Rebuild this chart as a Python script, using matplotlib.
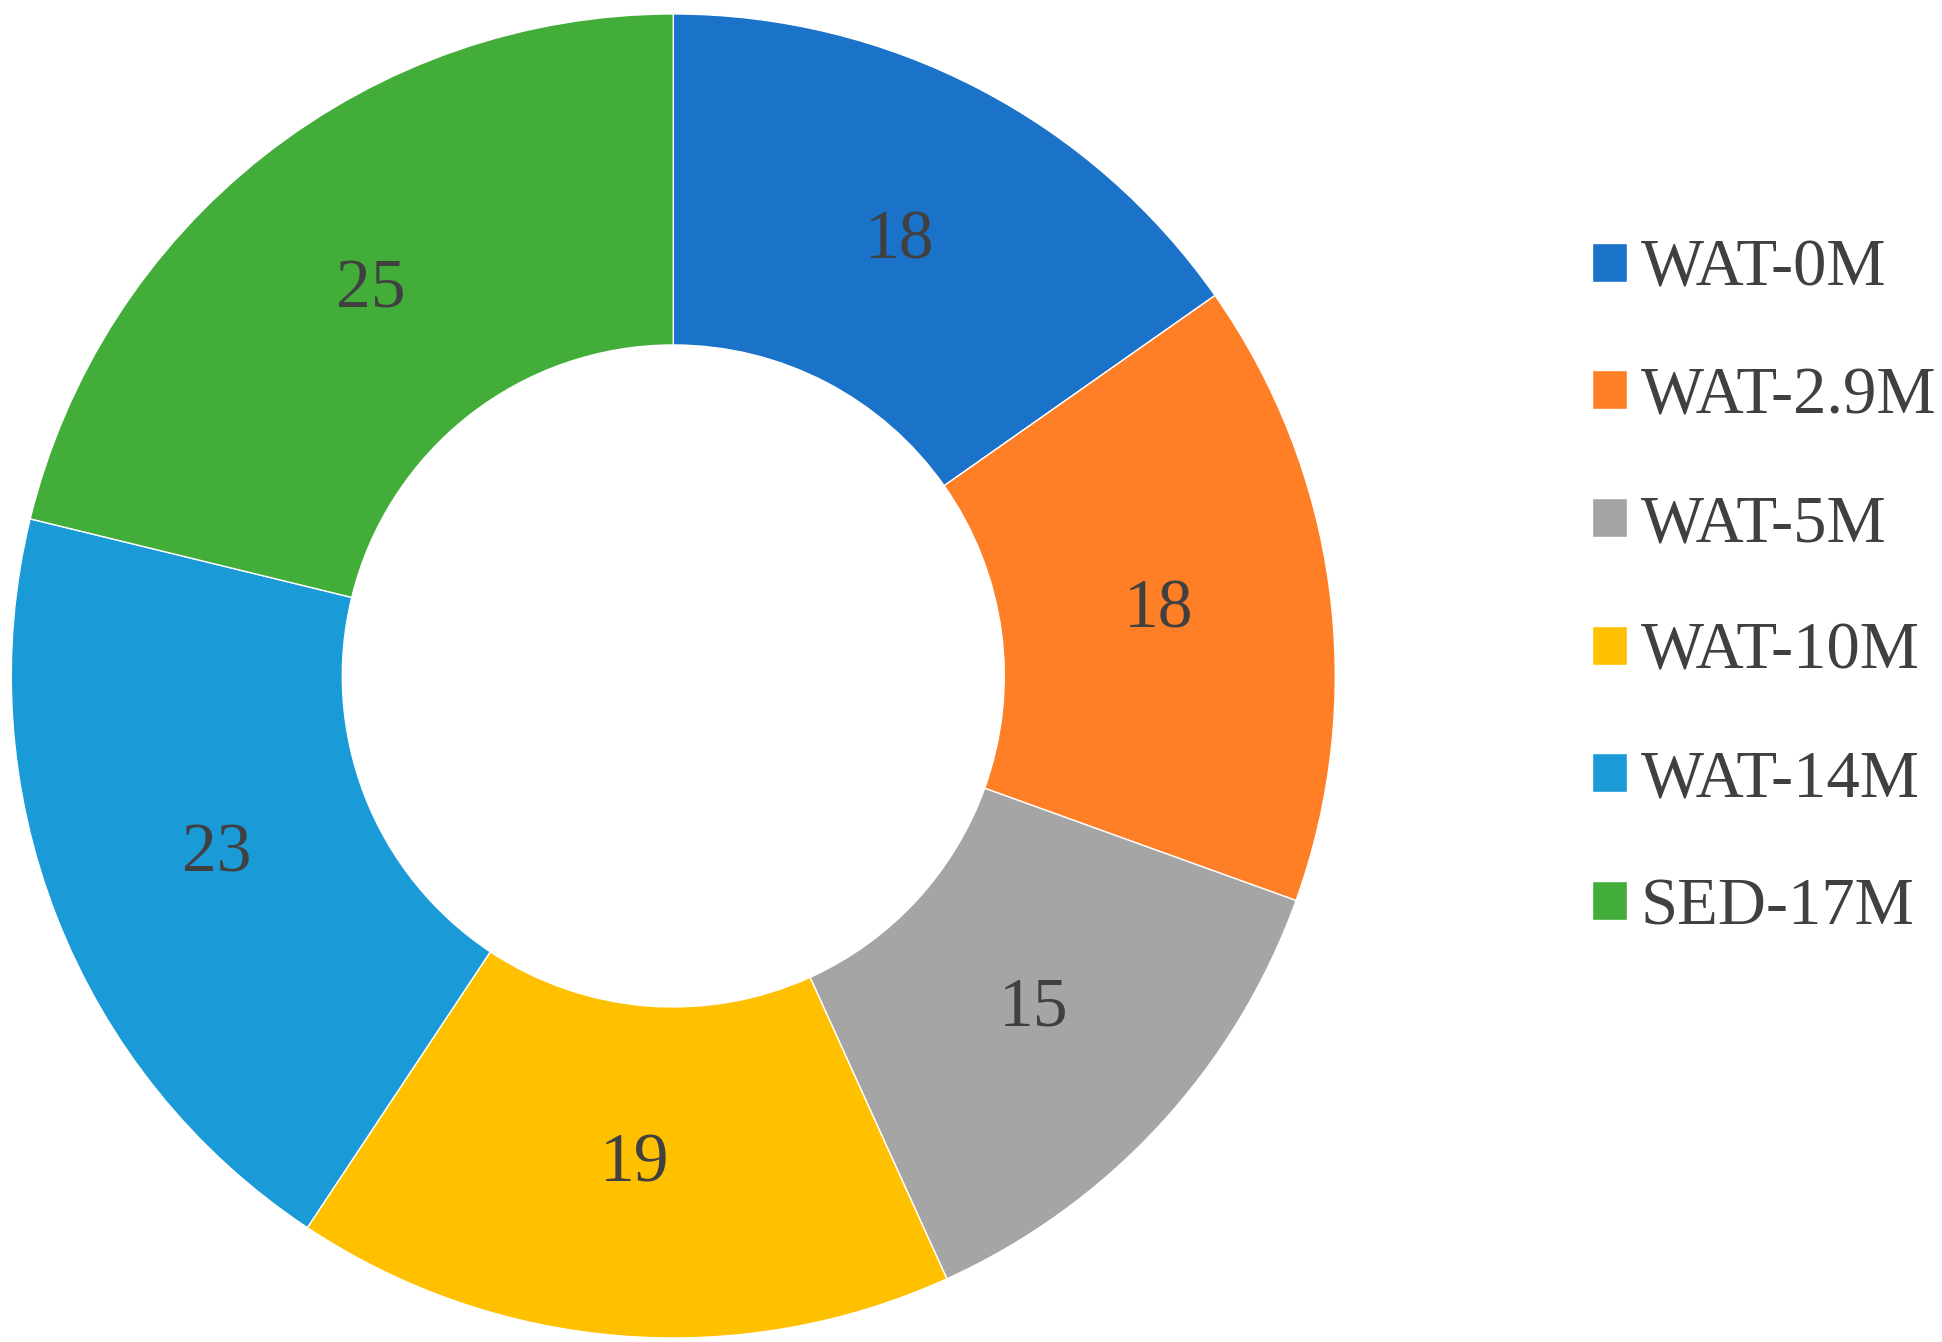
import matplotlib.pyplot as plt

labels = ["WAT-0M", "WAT-2.9M", "WAT-5M", "WAT-10M", "WAT-14M", "SED-17M"]
values = [18, 18, 15, 19, 23, 25]
colors = ["#1A72C9", "#FF7F27", "#A5A5A5", "#FFC000", "#1A9BD7", "#43AD3A"]

plt.rcParams["font.family"] = ["Liberation Serif", "DejaVu Serif"]

fig = plt.figure(figsize=(19.42, 13.42), dpi=100)
ax = fig.add_axes([0.0057, 0.003, 0.682, 0.9866])
wedges, texts = ax.pie(
    values,
    colors=colors,
    startangle=90,
    counterclock=False,
    labels=[str(v) for v in values],
    labeldistance=0.74,
    wedgeprops=dict(width=0.5, edgecolor="white", linewidth=1),
    textprops=dict(fontsize=50, color="#404040", ha="center", va="center"),
)
ax.set_xlim(-1.0, 1.0)
ax.set_ylim(-1.0, 1.0)
ax.set_aspect("equal")

fig.legend(
    handles=wedges,
    labels=labels,
    loc="upper left",
    bbox_to_anchor=(0.82, 0.822),
    frameon=False,
    prop=dict(size=48),
    labelcolor="#404040",
    handlelength=0.52,
    handleheight=0.52,
    handletextpad=0.2,
    labelspacing=1.0,
    borderpad=0,
    borderaxespad=0,
)
fig.savefig("out.png")
